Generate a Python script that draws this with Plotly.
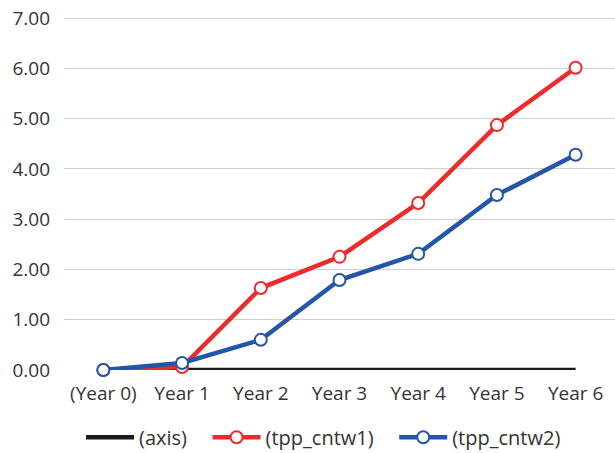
import plotly.graph_objects as go

categories = ["(Year 0)", "Year 1", "Year 2", "Year 3", "Year 4", "Year 5", "Year 6"]
axis_vals = [0, 0, 0, 0, 0, 0, 0]
tpp_cntw1 = [0.0, 0.06, 1.63, 2.25, 3.32, 4.87, 6.01]
tpp_cntw2 = [0.0, 0.14, 0.60, 1.79, 2.31, 3.48, 4.28]
y_ticks = [0, 1, 2, 3, 4, 5, 6, 7]
series_names = ["(axis)", "(tpp_cntw1)", "(tpp_cntw2)"]

FONT = "Open Sans"
FS = 19
LFS = 20
PAD = "\u00a0\u00a0\u00a0"

fig = go.Figure()
fig.add_trace(go.Scatter(
    x=categories, y=axis_vals, name=series_names[0] + PAD, mode="lines",
    line=dict(color="#1a1a1a", width=4.5), cliponaxis=False))
fig.add_trace(go.Scatter(
    x=categories, y=tpp_cntw1, name=series_names[1] + PAD, mode="lines+markers",
    line=dict(color="#ee2a2a", width=4.5),
    marker=dict(symbol="circle", size=12, color="white",
                line=dict(color="#ee2a2a", width=2)),
    cliponaxis=False))
fig.add_trace(go.Scatter(
    x=categories, y=tpp_cntw2, name=series_names[2], mode="lines+markers",
    line=dict(color="#2356a8", width=4.5),
    marker=dict(symbol="circle", size=12, color="white",
                line=dict(color="#2356a8", width=2)),
    cliponaxis=False))

fig.update_layout(
    width=615, height=453,
    margin=dict(l=64, r=0, t=16, b=83, autoexpand=False),
    paper_bgcolor="white", plot_bgcolor="white",
    font=dict(family=FONT, size=FS, color="#333333"),
    showlegend=True,
    legend=dict(orientation="h", x=0.471, xanchor="center", y=-0.135, yanchor="top",
                font=dict(size=LFS, color="#333333"), itemwidth=48,
                traceorder="normal"),
)
fig.update_xaxes(type="category", range=[-0.5, 6.5], showgrid=False,
                 showline=False, zeroline=False, ticks="",
                 ticklabelstandoff=10,
                 tickfont=dict(size=FS, color="#333333"))
fig.update_yaxes(range=[0, 7.04], tickvals=y_ticks,
                 ticktext=[f"{v:.2f}" for v in y_ticks],
                 showgrid=True, gridcolor="#d0d0d0", gridwidth=1,
                 zeroline=False, showline=False, ticks="",
                 ticklabelstandoff=13,
                 tickfont=dict(size=FS, color="#333333"))

fig.write_html("out.html", config={"displayModeBar": False},
               post_script="document.body.style.margin='0';document.body.style.padding='0';")
